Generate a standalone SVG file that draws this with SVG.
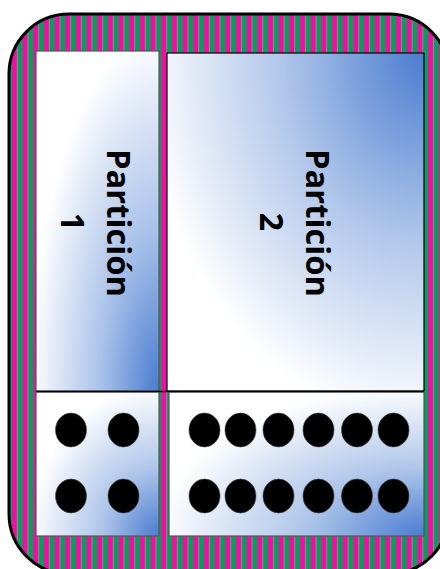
<svg xmlns="http://www.w3.org/2000/svg" width="440" height="569" viewBox="0 0 440 569">
<defs>
<pattern id="stripes" patternUnits="userSpaceOnUse" x="1.3" y="0" width="10.67" height="20">
<rect x="0" y="0" width="5.33" height="20" fill="#F00FA2"/>
<rect x="5.33" y="0" width="5.34" height="20" fill="#0D9B5D"/>
</pattern>
<radialGradient id="g1top" cx="1" cy="1" r="1.05" fx="1" fy="1">
<stop offset="0" stop-color="#4A7CD0"/>
<stop offset="0.45" stop-color="#A9C1E9"/>
<stop offset="1" stop-color="#FFFFFF"/>
</radialGradient>
<radialGradient id="g2top" cx="1" cy="0" r="1.1" fx="1" fy="0">
<stop offset="0" stop-color="#4A7CD0"/>
<stop offset="0.5" stop-color="#B0C6EA"/>
<stop offset="1" stop-color="#FFFFFF"/>
</radialGradient>
<radialGradient id="gbot" cx="1" cy="1" r="1.05" fx="1" fy="1">
<stop offset="0" stop-color="#4A7CD0"/>
<stop offset="0.45" stop-color="#AFC6EA"/>
<stop offset="1" stop-color="#FFFFFF"/>
</radialGradient>
<style>
.panel { stroke: #555; stroke-width: 1.2; }
.dot { fill: #000; stroke: #444; stroke-width: 0.6; }
.lbl { font-family: "Open Sans", "Liberation Sans", sans-serif; font-weight: bold; font-size: 32px; fill: #000; text-anchor: middle; }
</style>
</defs>
<g id="frame">
<rect x="9" y="14" width="440" height="560" rx="60" ry="60" fill="url(#stripes)" stroke="#000" stroke-width="3"/>
</g>
<g id="partition1">
<rect class="panel" x="36" y="51" width="123" height="340" fill="url(#g1top)"/>
<text class="lbl" transform="translate(107,223) rotate(90)" textLength="148" lengthAdjust="spacingAndGlyphs">Partición</text>
<text class="lbl" transform="translate(61,222) rotate(90)">1</text>
</g>
<g id="partition2">
<rect x="167" y="53" width="257" height="338" fill="url(#g2top)" stroke="#000" stroke-width="1.2"/>
<text class="lbl" transform="translate(306,223) rotate(90)" textLength="148" lengthAdjust="spacingAndGlyphs">Partición</text>
<text class="lbl" transform="translate(260,222) rotate(90)">2</text>
</g>
<g id="bottom1">
<rect class="panel" x="36" y="392" width="123" height="144" fill="url(#gbot)"/>
<ellipse class="dot" cx="71" cy="430" rx="15.5" ry="17"/>
<ellipse class="dot" cx="123.5" cy="430" rx="15.5" ry="17"/>
<ellipse class="dot" cx="71" cy="496" rx="15.5" ry="17"/>
<ellipse class="dot" cx="123.5" cy="496" rx="15.5" ry="17"/>
</g>
<g id="bottom2">
<rect class="panel" x="169" y="392" width="255" height="144" fill="url(#gbot)"/>
<ellipse class="dot" cx="204.5" cy="430" rx="15.5" ry="17"/>
<ellipse class="dot" cx="240.5" cy="430" rx="15.5" ry="17"/>
<ellipse class="dot" cx="278.5" cy="430" rx="15.5" ry="17"/>
<ellipse class="dot" cx="318.5" cy="430" rx="15.5" ry="17"/>
<ellipse class="dot" cx="357" cy="430" rx="15.5" ry="17"/>
<ellipse class="dot" cx="393.5" cy="430" rx="15.5" ry="17"/>
<ellipse class="dot" cx="204.5" cy="496" rx="15.5" ry="17"/>
<ellipse class="dot" cx="240.5" cy="496" rx="15.5" ry="17"/>
<ellipse class="dot" cx="278.5" cy="496" rx="15.5" ry="17"/>
<ellipse class="dot" cx="318.5" cy="496" rx="15.5" ry="17"/>
<ellipse class="dot" cx="357" cy="496" rx="15.5" ry="17"/>
<ellipse class="dot" cx="393.5" cy="496" rx="15.5" ry="17"/>
</g>
<g id="connectors">
<line x1="36" y1="391.5" x2="424" y2="391.5" stroke="#000" stroke-width="1.5"/>
</g>
</svg>
